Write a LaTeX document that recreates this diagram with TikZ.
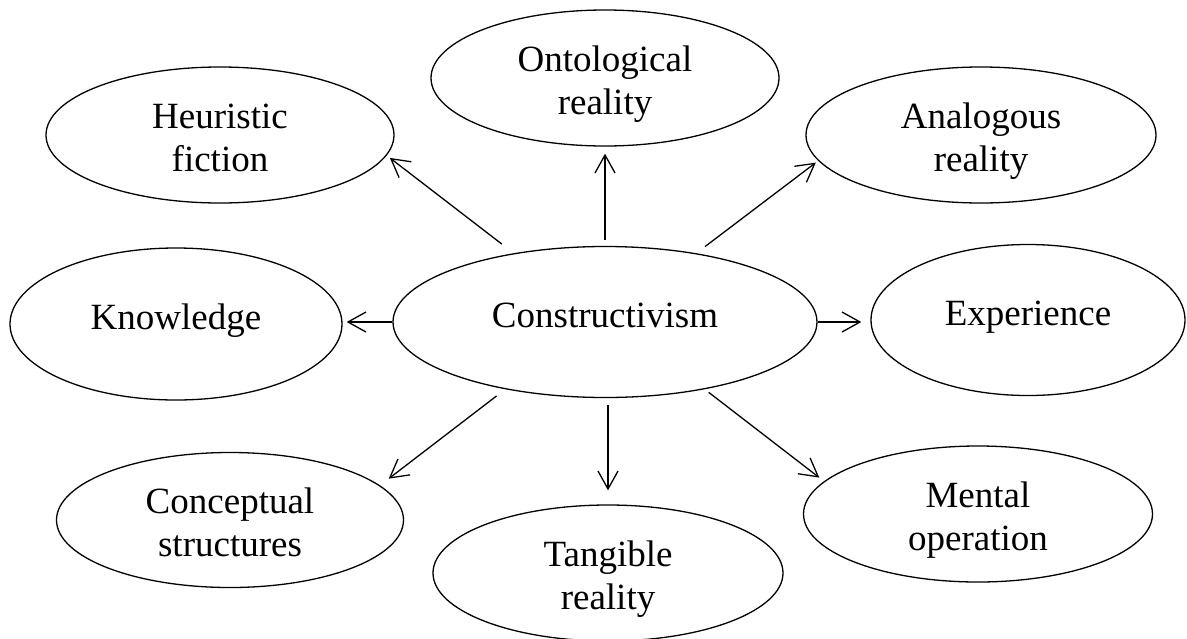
\documentclass[tikz,border=0pt]{standalone}
\usepackage{fontspec}
\setmainfont{Liberation Serif}
\usetikzlibrary{shapes.geometric,arrows.meta}
\begin{document}
\begin{tikzpicture}[x=1pt,y=-1pt,
  bubble/.style={ellipse,draw,line width=1.3pt,inner sep=0pt,align=center,
    font=\fontsize{37}{42.5}\selectfont},
  oneline/.style={bubble,text height=26pt,text depth=15pt},
  twoline/.style={bubble,text height=78pt,text depth=6pt},
  link/.style={line width=1.3pt,
    -{Straight Barb[length=18pt,width=20pt,line width=1.3pt]}}]
\useasboundingbox (0,0) rectangle (1187,638);

% concept bubbles
\node[oneline,minimum width=424pt,minimum height=151pt] (c)  at (605,322) {Constructivism};
\node[twoline,minimum width=348pt,minimum height=136pt] (h)  at (220,135) {Heuristic\\fiction};
\node[twoline,minimum width=348pt,minimum height=136pt] (o)  at (605,78)  {Ontological\\reality};
\node[twoline,minimum width=350pt,minimum height=136pt] (a)  at (981,135) {Analogous\\reality};
\node[oneline,minimum width=332pt,minimum height=152pt] (k)  at (176,324) {Knowledge};
\node[oneline,minimum width=314pt,minimum height=151pt] (x)  at (1028,320) {Experience};
\node[twoline,minimum width=347pt,minimum height=135pt] (cs) at (230,520) {Conceptual\\structures};
\node[twoline,minimum width=350pt,minimum height=136pt] (t)  at (608,573) {Tangible\\reality};
\node[twoline,minimum width=349pt,minimum height=136pt] (m)  at (978,514) {Mental\\operation};

% links out of the central concept
\draw[link, shorten <=15pt, shorten >=4pt]  (c.143.75) -- (h.-7.8);
\draw[link, shorten <=6pt,  shorten >=7pt]  (c.north -| o.south) -- (o.south);
\draw[link, shorten <=11pt, shorten >=3pt]  (c.37.4) -- (a.-171.8);
\draw[link, shorten >=4pt]                  (c.west) -- (c.west -| k.east);
\draw[link, shorten >=9pt]                  (c.east) -- (c.east -| x.west);
\draw[link, shorten <=11pt, shorten >=11pt] (c.-146.2) -- (cs.13.95);
\draw[link, shorten <=7pt,  shorten >=14pt] (c.south -| t.north) -- (t.north);
\draw[link, shorten <=5pt,  shorten >=6pt]  (c.-34.5) -- (m.168.4);
\end{tikzpicture}
\end{document}
